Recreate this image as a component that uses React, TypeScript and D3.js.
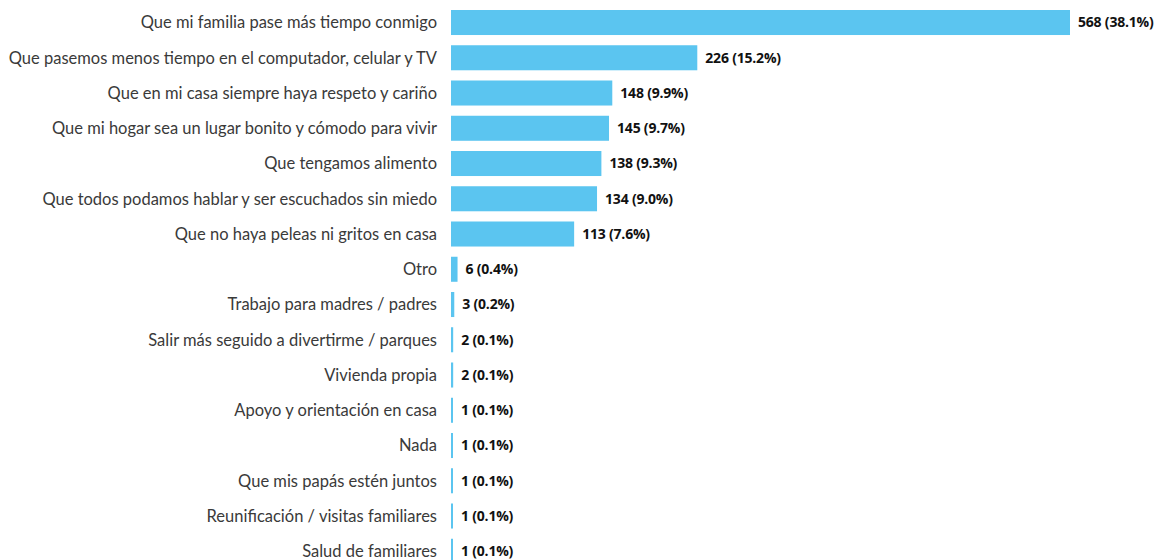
import * as d3 from "d3";
import { useEffect, useRef } from "react";

const categories = [
  "Que mi familia pase más tiempo conmigo",
  "Que pasemos menos tiempo en el computador, celular y TV",
  "Que en mi casa siempre haya respeto y cariño",
  "Que mi hogar sea un lugar bonito y cómodo para vivir",
  "Que tengamos alimento",
  "Que todos podamos hablar y ser escuchados sin miedo",
  "Que no haya peleas ni gritos en casa",
  "Otro",
  "Trabajo para madres / padres",
  "Salir más seguido a divertirme / parques",
  "Vivienda propia",
  "Apoyo y orientación en casa",
  "Nada",
  "Que mis papás estén juntos",
  "Reunificación / visitas familiares",
  "Salud de familiares",
];
const counts = [568, 226, 148, 145, 138, 134, 113, 6, 3, 2, 2, 1, 1, 1, 1, 1];
const percents = ["38.1", "15.2", "9.9", "9.7", "9.3", "9.0", "7.6", "0.4", "0.2", "0.1", "0.1", "0.1", "0.1", "0.1", "0.1", "0.1"];

const width = 1159;
const height = 560;

export default function App() {
  const svgRef = useRef(null);

  useEffect(() => {
    if (!svgRef.current) return;
    const svg = d3.select(svgRef.current);
    svg.selectAll("*").remove();

    const step = 35.25;
    const pad = 0.29;
    const top = 10 - step * pad / 2;
    const y = d3
      .scaleBand<string>()
      .domain(categories)
      .range([top, top + step * categories.length])
      .paddingInner(pad)
      .paddingOuter(pad / 2);

    const x = d3.scaleLinear().domain([0, 568]).range([451, 1070]);
    const barW = (i: number) => Math.max(2, x(counts[i]) - x(0));

    const rows = svg
      .selectAll("g.row")
      .data(categories)
      .join("g")
      .attr("class", "row")
      .attr("transform", (d) => `translate(0,${y(d)})`);

    rows
      .append("rect")
      .attr("x", x(0))
      .attr("y", 0)
      .attr("width", (_, i) => barW(i))
      .attr("height", y.bandwidth())
      .attr("fill", "#5bc5f0");

    rows
      .append("text")
      .attr("x", 437)
      .attr("y", y.bandwidth() / 2)
      .attr("dy", "0.35em")
      .attr("text-anchor", "end")
      .attr("fill", "#3a3a3a")
      .style("font-family", "Lato")
      .style("font-size", "16.5px")
      .text((d) => d);

    rows
      .append("text")
      .attr("x", (_, i) => x(0) + barW(i) + 8)
      .attr("y", y.bandwidth() / 2)
      .attr("dy", "0.35em")
      .attr("fill", "#111")
      .style("font-family", "'Open Sans'")
      .style("font-weight", "700")
      .style("font-size", "14px")
      .style("letter-spacing", "-0.2px")
      .text((_, i) => `${counts[i]} (${percents[i]}%)`);
  }, []);

  return (
    <svg
      ref={svgRef}
      width={width}
      height={height}
      viewBox={`0 0 ${width} ${height}`}
      style={{ position: "absolute", left: 0, top: 0, display: "block", background: "#fff" }}
    />
  );
}
